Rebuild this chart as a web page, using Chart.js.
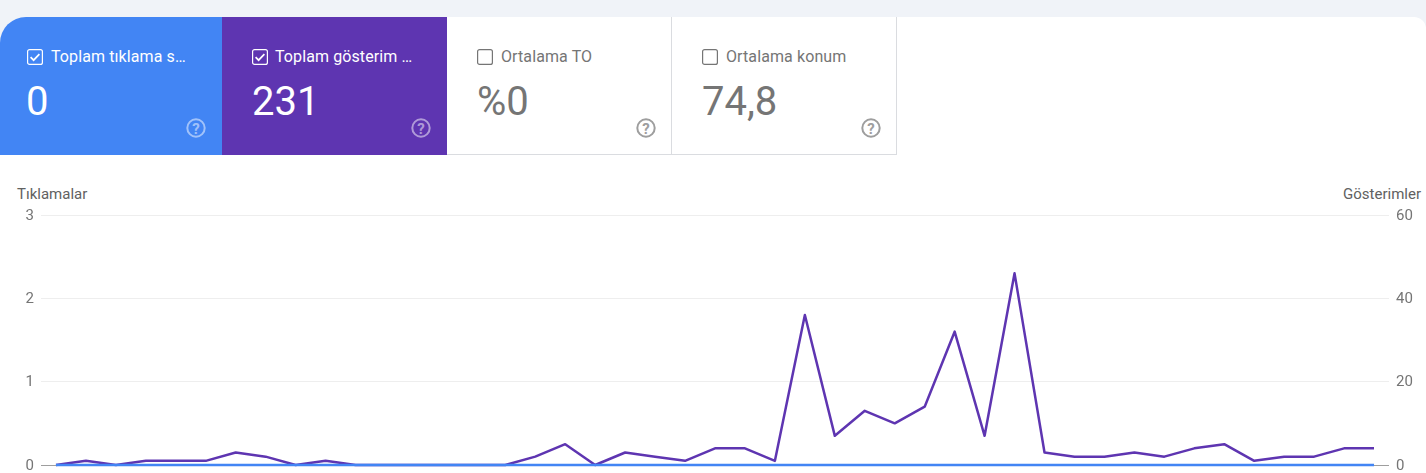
<!DOCTYPE html>
<html lang="tr">
<head>
<meta charset="utf-8">
<script src="https://cdn.jsdelivr.net/npm/chart.js@4"></script>
<style>
html,body{margin:0;padding:0;width:1426px;height:473px;overflow:hidden;background:#fff;font-family:Roboto,sans-serif;}
#top{position:absolute;left:0;top:0;width:1426px;height:17px;background:#f0f3f8;}
#tl{position:absolute;left:0;top:17px;width:26px;height:26px;background:#f0f3f8;}
#tr{position:absolute;right:0;top:17px;width:12px;height:12px;background:#f0f3f8;}
#tr:after{content:"";position:absolute;inset:0;background:#fff;border-top-right-radius:12px;}
.card{position:absolute;top:17px;height:138px;box-sizing:border-box;}
.c1{left:0;width:222px;background:#4285f4;color:#fff;border-top-left-radius:26px;}
.c2{left:222px;width:225px;background:#5e35b1;color:#fff;}
.c3{left:447px;width:225px;background:#fff;color:#757575;border-bottom:1px solid #dadce0;border-right:1px solid #dadce0;}
.c4{left:672px;width:225px;background:#fff;color:#757575;border-bottom:1px solid #dadce0;border-right:1px solid #dadce0;}
.cb{position:absolute;top:32px;left:27px;width:16px;height:16px;}
.c2 .cb,.c3 .cb,.c4 .cb{left:30px;}
.lbl{position:absolute;top:30px;left:51px;font-size:16px;letter-spacing:.1px;line-height:20px;white-space:nowrap;font-weight:400;}
.c2 .lbl,.c3 .lbl,.c4 .lbl{left:53px;}
.c3 .lbl,.c4 .lbl{left:54px;}
.val{position:absolute;top:62px;left:26px;font-size:40px;line-height:46px;white-space:nowrap;}
.c2 .val,.c3 .val,.c4 .val{left:30px;}
.help{position:absolute;top:101px;left:186px;width:20px;height:20px;}
.c2 .help,.c3 .help,.c4 .help{left:189px;}
.axt{position:absolute;top:186px;font-size:15px;line-height:17px;color:#616161;white-space:nowrap;}
#chartBox{position:absolute;left:0;top:190px;width:1426px;height:291px;}
</style>
</head>
<body>
<div id="top"></div><div id="tl"></div><div id="tr"></div>

<div class="card c1">
  <svg class="cb" viewBox="0 0 16 16"><rect x=".6" y=".6" width="14.8" height="14.8" rx="2" fill="none" stroke="#fff" stroke-width="1.2"/><path d="M3.6 8.2l3 3 5.8-6" fill="none" stroke="#fff" stroke-width="1.7"/></svg>
  <div class="lbl">Toplam tıklama s…</div>
  <div class="val">0</div>
  <svg class="help" viewBox="0 0 20 20"><circle cx="10" cy="10" r="8.7" fill="none" stroke="#fff" stroke-opacity=".5" stroke-width="2"/><text x="10" y="15.5" text-anchor="middle" font-size="15" font-family="Roboto" font-weight="700" fill="#fff" fill-opacity=".5">?</text></svg>
</div>
<div class="card c2">
  <svg class="cb" viewBox="0 0 16 16"><rect x=".6" y=".6" width="14.8" height="14.8" rx="2" fill="none" stroke="#fff" stroke-width="1.2"/><path d="M3.6 8.2l3 3 5.8-6" fill="none" stroke="#fff" stroke-width="1.7"/></svg>
  <div class="lbl">Toplam gösterim …</div>
  <div class="val">231</div>
  <svg class="help" viewBox="0 0 20 20"><circle cx="10" cy="10" r="8.7" fill="none" stroke="#fff" stroke-opacity=".5" stroke-width="2"/><text x="10" y="15.5" text-anchor="middle" font-size="15" font-family="Roboto" font-weight="700" fill="#fff" fill-opacity=".5">?</text></svg>
</div>
<div class="card c3">
  <svg class="cb" viewBox="0 0 16 16"><rect x=".6" y=".6" width="14.8" height="14.8" rx="2" fill="none" stroke="#757575" stroke-width="1.2"/></svg>
  <div class="lbl">Ortalama TO</div>
  <div class="val">%0</div>
  <svg class="help" viewBox="0 0 20 20"><circle cx="10" cy="10" r="8.7" fill="none" stroke="#9e9e9e" stroke-width="2"/><text x="10" y="15.5" text-anchor="middle" font-size="15" font-family="Roboto" font-weight="700" fill="#9e9e9e">?</text></svg>
</div>
<div class="card c4">
  <svg class="cb" viewBox="0 0 16 16"><rect x=".6" y=".6" width="14.8" height="14.8" rx="2" fill="none" stroke="#757575" stroke-width="1.2"/></svg>
  <div class="lbl">Ortalama konum</div>
  <div class="val">74,8</div>
  <svg class="help" viewBox="0 0 20 20"><circle cx="10" cy="10" r="8.7" fill="none" stroke="#9e9e9e" stroke-width="2"/><text x="10" y="15.5" text-anchor="middle" font-size="15" font-family="Roboto" font-weight="700" fill="#9e9e9e">?</text></svg>
</div>

<div class="axt" style="left:17px">Tıklamalar</div>
<div class="axt" style="right:5px">Gösterimler</div>
<div id="chartBox"><canvas id="c"></canvas></div>

<script>
const days = ["1","2","3","4","5","6","7","8","9","10","11","12","13","14","15","16","17","18","19","20","21","22","23","24","25","26","27","28","29","30","31","32","33","34","35","36","37","38","39","40","41","42","43","44","45"];
const clicks = [0,0,0,0,0,0,0,0,0,0,0,0,0,0,0,0,0,0,0,0,0,0,0,0,0,0,0,0,0,0,0,0,0,0,0,0,0,0,0,0,0,0,0,0,0];
const impressions = [0,1,0,1,1,1,3,2,0,1,0,0,0,0,0,0,2,5,0,3,2,1,4,4,1,36,7,13,10,14,32,7,46,3,2,2,3,2,4,5,1,2,2,4,4];
const clickTicks = [0,1,2,3];
const impressionTicks = [0,20,40,60];

const tickFont = {family:"Roboto", size:15};
const gridColor = ctx => ctx.tick && ctx.tick.value === 0 ? "#9e9e9e" : "#eeeeee";

new Chart(document.getElementById("c"), {
  type: "line",
  data: {
    labels: days,
    datasets: [
      {label:"Tıklamalar", data:clicks, yAxisID:"yL", borderColor:"#4285f4", borderWidth:2.5, borderJoinStyle:"round", pointRadius:0, tension:0, clip:false},
      {label:"Gösterimler", data:impressions, yAxisID:"yR", borderColor:"#5e35b1", borderWidth:2.5, borderJoinStyle:"round", pointRadius:0, tension:0, clip:false}
    ]
  },
  options: {
    responsive:true, maintainAspectRatio:false, animation:false,
    layout:{padding:{top:25,bottom:0,left:0,right:0}},
    plugins:{legend:{display:false},tooltip:{enabled:false}},
    scales:{
      x:{display:false, offset:true, grid:{display:false}},
      yL:{
        position:"left", min:clickTicks[0], max:clickTicks[clickTicks.length-1],
        afterBuildTicks:a=>{a.ticks=clickTicks.map(v=>({value:v}));},
        afterFit:a=>{a.width=41;},
        border:{display:false},
        grid:{color:gridColor, drawTicks:false, lineWidth:1},
        ticks:{color:"#757575", font:tickFont, padding:7, autoSkip:false, labelOffset:1}
      },
      yR:{
        position:"right", min:impressionTicks[0], max:impressionTicks[impressionTicks.length-1],
        afterBuildTicks:a=>{a.ticks=impressionTicks.map(v=>({value:v}));},
        afterFit:a=>{a.width=37;},
        border:{display:false},
        grid:{display:false, drawTicks:false},
        ticks:{color:"#757575", font:tickFont, padding:7, autoSkip:false, labelOffset:1}
      }
    }
  }
});
</script>
</body>
</html>
